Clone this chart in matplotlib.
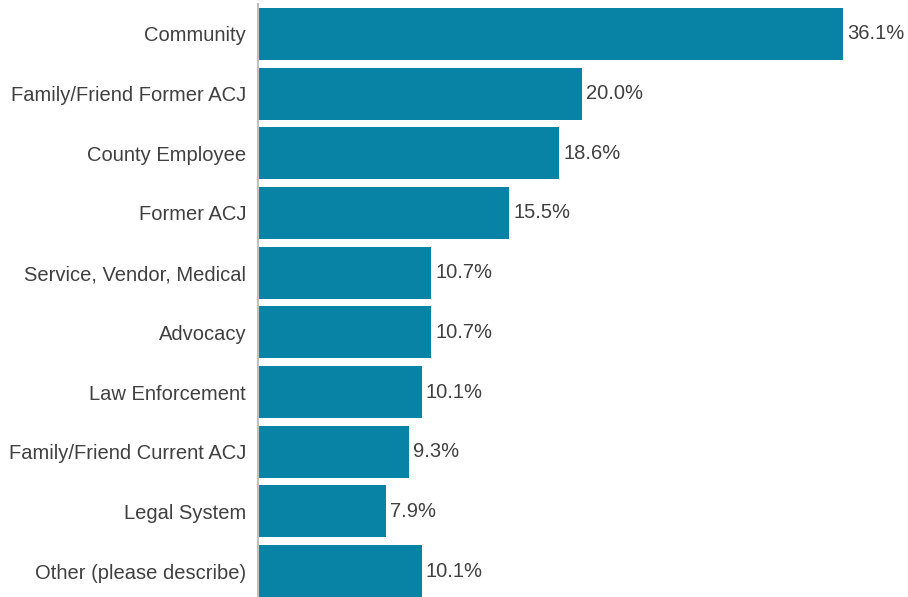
import matplotlib.pyplot as plt

categories = [
    "Community",
    "Family/Friend Former ACJ",
    "County Employee",
    "Former ACJ",
    "Service, Vendor, Medical",
    "Advocacy",
    "Law Enforcement",
    "Family/Friend Current ACJ",
    "Legal System",
    "Other (please describe)",
]
percents = [36.1, 20.0, 18.6, 15.5, 10.7, 10.7, 10.1, 9.3, 7.9, 10.1]

plt.rcParams["font.family"] = ["Liberation Sans", "DejaVu Sans"]

fig = plt.figure(figsize=(9.08, 5.97), dpi=100)
ax = fig.add_axes([258 / 908, -4 / 597, 650 / 908, 1.0])

ypos = list(range(len(categories)))
ax.barh(ypos, percents, height=0.87, color="#0883a5")
for y, v in zip(ypos, percents):
    ax.text(v + 0.25, y, f"{v:.1f}%", va="center", ha="left", fontsize=14.5, color="#404040")

ax.set_yticks(ypos)
ax.set_yticklabels(categories, fontsize=14.5, color="#404040")
ax.set_ylim(len(categories) - 0.5, -0.5)
ax.set_xlim(0, 40.1)
ax.tick_params(axis="y", length=0, pad=8.5)
ax.set_xticks([])
for side in ["top", "right", "bottom"]:
    ax.spines[side].set_visible(False)
ax.spines["left"].set_color("#c0c0c0")
ax.spines["left"].set_linewidth(1.5)

fig.savefig("out.png", dpi=100)
